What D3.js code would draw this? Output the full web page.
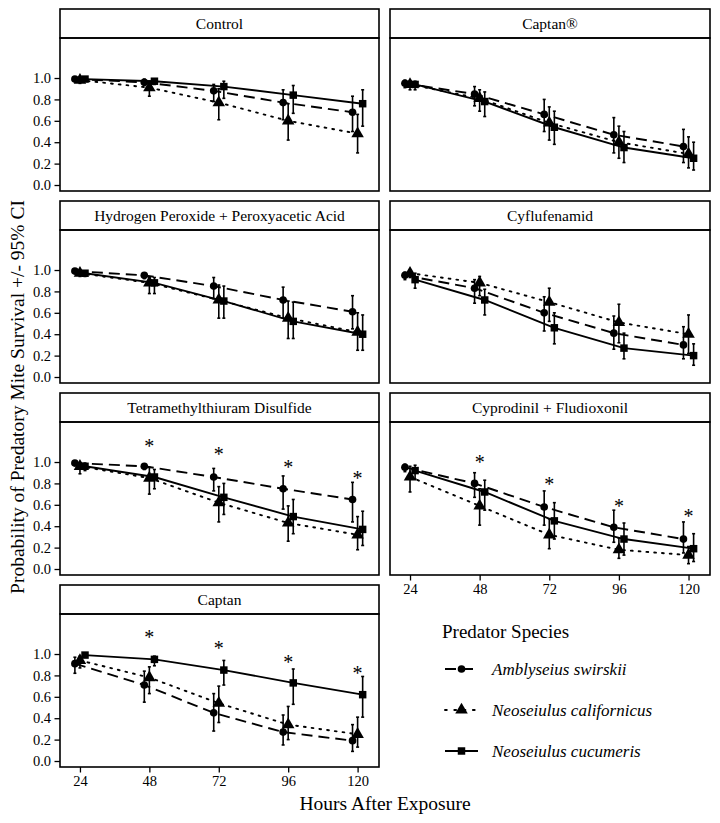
<!DOCTYPE html>
<html>
<head>
<meta charset="utf-8">
<script src="https://cdn.jsdelivr.net/npm/d3@7"></script>
</head>
<body style="margin:0;padding:0;background:#fff">
<svg id="chart" width="720" height="823" style="display:block"></svg>
<script>
// ---------------- DATA ----------------
const hours = [24, 48, 72, 96, 120];
const hourTicks = ["24", "48", "72", "96", "120"];
const survivalTicks = [0, 0.2, 0.4, 0.6, 0.8, 1.0];
const treatments = [
  "Control", "Captan®",
  "Hydrogen Peroxide + Peroxyacetic Acid", "Cyflufenamid",
  "Tetramethylthiuram Disulfide", "Cyprodinil + Fludioxonil",
  "Captan"
];
const species = ["Amblyseius swirskii", "Neoseiulus californicus", "Neoseiulus cucumeris"];

// Amblyseius swirskii (circle, dashed)
const swirskiiEst = [
  [0.99, 0.96, 0.88, 0.77, 0.68],
  [0.95, 0.85, 0.66, 0.47, 0.36],
  [0.99, 0.95, 0.85, 0.72, 0.61],
  [0.95, 0.83, 0.60, 0.41, 0.30],
  [0.99, 0.96, 0.86, 0.75, 0.65],
  [0.95, 0.80, 0.58, 0.39, 0.28],
  [0.91, 0.71, 0.45, 0.27, 0.19]
];
const swirskiiLo = [
  [0.97, 0.93, 0.78, 0.61, 0.50],
  [0.91, 0.74, 0.50, 0.30, 0.21],
  [0.97, 0.92, 0.73, 0.55, 0.45],
  [0.91, 0.69, 0.43, 0.26, 0.17],
  [0.97, 0.93, 0.73, 0.56, 0.44],
  [0.91, 0.67, 0.41, 0.25, 0.15],
  [0.82, 0.55, 0.28, 0.15, 0.09]
];
const swirskiiHi = [
  [1.00, 0.99, 0.94, 0.89, 0.83],
  [0.98, 0.92, 0.80, 0.63, 0.52],
  [1.00, 0.97, 0.93, 0.84, 0.76],
  [0.98, 0.91, 0.75, 0.57, 0.47],
  [1.00, 0.98, 0.94, 0.87, 0.81],
  [0.98, 0.90, 0.73, 0.55, 0.44],
  [0.97, 0.84, 0.63, 0.43, 0.34]
];

// Neoseiulus californicus (triangle, dotted)
const californicusEst = [
  [0.98, 0.91, 0.77, 0.60, 0.48],
  [0.94, 0.81, 0.58, 0.40, 0.29],
  [0.97, 0.88, 0.72, 0.55, 0.42],
  [0.97, 0.88, 0.70, 0.51, 0.40],
  [0.96, 0.85, 0.62, 0.43, 0.32],
  [0.86, 0.59, 0.32, 0.18, 0.13],
  [0.94, 0.78, 0.54, 0.34, 0.25]
];
const californicusLo = [
  [0.95, 0.83, 0.61, 0.42, 0.30],
  [0.89, 0.69, 0.42, 0.25, 0.16],
  [0.94, 0.78, 0.55, 0.36, 0.25],
  [0.93, 0.76, 0.52, 0.32, 0.22],
  [0.89, 0.70, 0.44, 0.26, 0.18],
  [0.72, 0.41, 0.19, 0.10, 0.05],
  [0.87, 0.63, 0.36, 0.20, 0.13]
];
const californicusHi = [
  [1.00, 0.97, 0.90, 0.76, 0.66],
  [0.97, 0.89, 0.73, 0.55, 0.45],
  [0.99, 0.93, 0.86, 0.71, 0.60],
  [0.99, 0.94, 0.83, 0.68, 0.58],
  [0.99, 0.95, 0.77, 0.59, 0.49],
  [0.96, 0.75, 0.47, 0.29, 0.21],
  [0.98, 0.88, 0.70, 0.51, 0.41]
];

// Neoseiulus cucumeris (square, solid)
const cucumerisEst = [
  [0.99, 0.97, 0.92, 0.84, 0.76],
  [0.94, 0.78, 0.54, 0.35, 0.25],
  [0.97, 0.88, 0.71, 0.52, 0.40],
  [0.91, 0.72, 0.46, 0.27, 0.20],
  [0.96, 0.86, 0.67, 0.49, 0.37],
  [0.92, 0.72, 0.45, 0.28, 0.19],
  [0.99, 0.95, 0.85, 0.73, 0.62]
];
const cucumerisLo = [
  [0.97, 0.94, 0.81, 0.67, 0.55],
  [0.89, 0.64, 0.38, 0.21, 0.14],
  [0.94, 0.78, 0.55, 0.36, 0.25],
  [0.83, 0.58, 0.31, 0.17, 0.11],
  [0.92, 0.75, 0.51, 0.33, 0.22],
  [0.84, 0.55, 0.28, 0.13, 0.07],
  [0.97, 0.89, 0.71, 0.53, 0.41]
];
const cucumerisHi = [
  [1.00, 0.99, 0.97, 0.93, 0.89],
  [0.97, 0.87, 0.69, 0.50, 0.40],
  [0.99, 0.93, 0.85, 0.70, 0.58],
  [0.97, 0.82, 0.60, 0.41, 0.31],
  [0.99, 0.93, 0.80, 0.65, 0.54],
  [0.97, 0.83, 0.62, 0.43, 0.33],
  [1.00, 0.98, 0.94, 0.86, 0.79]
];

// significance asterisks (treatment index, hour, height on survival scale)
const starTreatment = [4, 4, 4, 4, 5, 5, 5, 5, 6, 6, 6, 6];
const starHour      = [48, 72, 96, 120, 48, 72, 96, 120, 48, 72, 96, 120];
const starLevel     = [1.19, 1.11, 0.99, 0.89, 1.04, 0.83, 0.63, 0.53, 1.20, 1.09, 0.96, 0.86];

// ---------------- LAYOUT ----------------
const FONT = "'Liberation Serif'";
const svg = d3.select("#chart");
const colX = [[60, 379], [390, 710]];
const stripTop0 = 9, rowStep = 192, stripH = 29, panelH = 153;
const dodge = [-1.75, 0, 1.75];
const dashes = ["11,6", "1.8,6", null];
const shapes = [d3.symbolCircle, d3.symbolTriangle, d3.symbolSquare];
const shapeSize = [46, 68, 56];
const seriesEst = [swirskiiEst, californicusEst, cucumerisEst];
const seriesLo = [swirskiiLo, californicusLo, cucumerisLo];
const seriesHi = [swirskiiHi, californicusHi, cucumerisHi];

function txt(sel) { return sel.style("font-family", FONT).attr("fill", "#000"); }

treatments.forEach((name, t) => {
  const col = t % 2, row = Math.floor(t / 2);
  const x0 = colX[col][0], x1 = colX[col][1];
  const sTop = stripTop0 + row * rowStep;
  const pTop = sTop + stripH;
  const pBot = pTop + panelH;

  const x = d3.scaleLinear().domain([17.1, 127.4]).range([x0, x1]);
  const y = d3.scaleLinear().domain([-0.056, 1.374]).range([pBot, pTop]);

  const g = svg.append("g");

  // strip
  g.append("rect").attr("x", x0).attr("y", sTop).attr("width", x1 - x0).attr("height", stripH)
    .attr("fill", "#fff").attr("stroke", "#000").attr("stroke-width", 1.6);
  txt(g.append("text").attr("x", (x0 + x1) / 2).attr("y", sTop + stripH / 2 + 5)
    .attr("text-anchor", "middle").style("font-size", "15.5px")).text(name);

  // series
  species.forEach((sp, s) => {
    const pts = hours.map((h, i) => ({
      h: h + dodge[s], v: seriesEst[s][t][i], lo: seriesLo[s][t][i], hi: seriesHi[s][t][i]
    }));
    const line = d3.line().x(d => x(d.h)).y(d => y(d.v));
    g.append("path").datum(pts).attr("d", line).attr("fill", "none")
      .attr("stroke", "#000").attr("stroke-width", 1.9)
      .attr("stroke-dasharray", dashes[s])
      .attr("stroke-linecap", s === 1 ? "round" : "butt");
    const eb = g.append("g").attr("stroke", "#000").attr("stroke-width", 1.6);
    pts.forEach(d => {
      eb.append("line").attr("x1", x(d.h)).attr("x2", x(d.h)).attr("y1", y(d.lo)).attr("y2", y(d.hi));
      eb.append("line").attr("x1", x(d.h) - 1.5).attr("x2", x(d.h) + 1.5).attr("y1", y(d.lo)).attr("y2", y(d.lo));
      eb.append("line").attr("x1", x(d.h) - 1.5).attr("x2", x(d.h) + 1.5).attr("y1", y(d.hi)).attr("y2", y(d.hi));
    });
    g.selectAll(null).data(pts).enter().append("path")
      .attr("d", d3.symbol().type(shapes[s]).size(shapeSize[s]))
      .attr("transform", d => `translate(${x(d.h)},${y(d.v)})`)
      .attr("fill", "#000");
  });

  // asterisks
  starTreatment.forEach((st, k) => {
    if (st !== t) return;
    txt(g.append("text").attr("x", x(starHour[k])).attr("y", y(starLevel[k]) + 11)
      .attr("text-anchor", "middle").style("font-size", "20px")).text("*");
  });

  // panel border
  g.append("rect").attr("x", x0).attr("y", pTop).attr("width", x1 - x0).attr("height", panelH)
    .attr("fill", "none").attr("stroke", "#000").attr("stroke-width", 1.6);

  // y axis (left column)
  if (col === 0) {
    const ya = g.append("g").attr("transform", `translate(${x0},0)`)
      .call(d3.axisLeft(y).tickValues(survivalTicks).tickFormat(d3.format(".1f")).tickSize(5.5).tickPadding(3.5));
    ya.select(".domain").remove();
    ya.selectAll(".tick line").attr("stroke-width", 1.3);
    txt(ya.selectAll("text")).style("font-size", "14.5px");
  }
  // x axis (bottom panel in each column)
  if (t === 5 || t === 6) {
    const xa = g.append("g").attr("transform", `translate(0,${pBot})`)
      .call(d3.axisBottom(x).tickValues(hours).tickFormat((d, i) => hourTicks[i]).tickSize(5.5).tickPadding(3));
    xa.select(".domain").remove();
    xa.selectAll(".tick line").attr("stroke-width", 1.3);
    txt(xa.selectAll("text")).style("font-size", "14.5px");
  }
});

// axis titles
txt(svg.append("text").attr("x", 385).attr("y", 810).attr("text-anchor", "middle")
  .style("font-size", "19.5px")).text("Hours After Exposure");
txt(svg.append("text").attr("transform", "translate(24,397) rotate(-90)").attr("text-anchor", "middle")
  .style("font-size", "19.5px")).text("Probability of Predatory Mite Survival +/- 95% CI");

// legend
const lg = svg.append("g");
txt(lg.append("text").attr("x", 442).attr("y", 638).style("font-size", "19px")).text("Predator Species");
species.forEach((sp, s) => {
  const cy = 669 + s * 41;
  lg.append("line").attr("x1", 445).attr("x2", 478).attr("y1", cy).attr("y2", cy)
    .attr("stroke", "#000").attr("stroke-width", 1.9)
    .attr("stroke-dasharray", s === 0 ? "11,6" : (s === 1 ? "1.8,7.5" : null))
    .attr("stroke-linecap", s === 1 ? "round" : "butt");
  lg.append("path").attr("d", d3.symbol().type(shapes[s]).size(shapeSize[s]))
    .attr("transform", `translate(461.5,${cy})`).attr("fill", "#000");
  txt(lg.append("text").attr("x", 492).attr("y", cy + 5.5).style("font-size", "17px")
    .style("font-style", "italic")).text(sp);
});
</script>
</body>
</html>
